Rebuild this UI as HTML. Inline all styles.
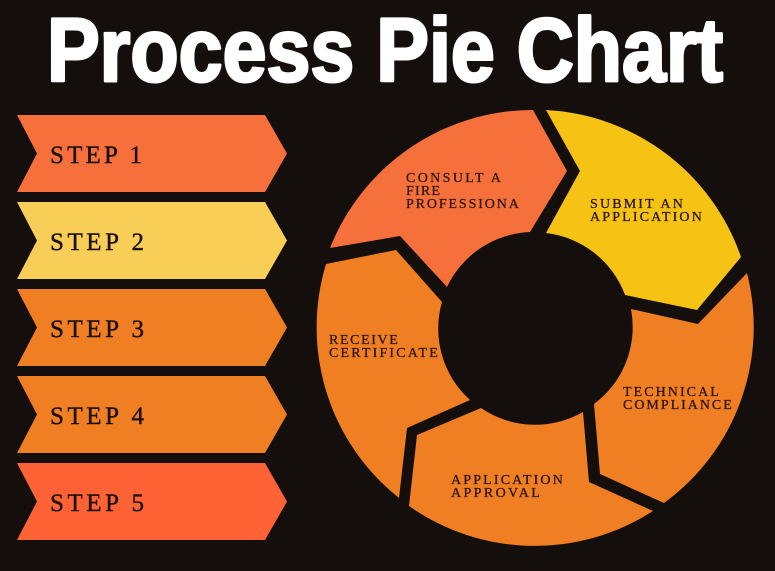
<!DOCTYPE html>
<html><head><meta charset="utf-8"><style>
html,body{margin:0;padding:0;background:#140E0C;}
svg{display:block}
</style></head><body>
<svg width="775" height="571" viewBox="0 0 775 571" xmlns="http://www.w3.org/2000/svg">
<rect width="775" height="571" fill="#140E0C"/>
<text x="385" y="81" text-anchor="middle" font-family="Liberation Sans, sans-serif" font-weight="bold" font-size="90" fill="#fff" stroke="#fff" stroke-width="3" stroke-linejoin="round" textLength="676" lengthAdjust="spacingAndGlyphs">Process Pie Chart</text>

<g font-family="Liberation Serif, serif" font-size="25" fill="#1a1008" stroke="#1a1008" stroke-width="0.4">
<polygon points="17,115 265,115 287,153.5 265,192 17,192 37,153.5" fill="#F76F3B" stroke="none"/>
<text x="50" y="163" textLength="92">STEP 1</text>
<polygon points="17,202 265,202 287,240.5 265,279 17,279 37,240.5" fill="#F9CE56" stroke="none"/>
<text x="50" y="250" textLength="94">STEP 2</text>
<polygon points="17,289 265,289 287,327.5 265,366 17,366 37,327.5" fill="#F07E22" stroke="none"/>
<text x="50" y="337" textLength="94">STEP 3</text>
<polygon points="17,376 265,376 287,414.5 265,453 17,453 37,414.5" fill="#F07E22" stroke="none"/>
<text x="50" y="424" textLength="94">STEP 4</text>
<polygon points="17,463 265,463 287,501.5 265,540 17,540 37,501.5" fill="#FF6235" stroke="none"/>
<text x="50" y="511" textLength="94">STEP 5</text>
</g>

<path d="M330,248 A218,218 0 0 1 533,110 L567,171 L530,232 A96,96 0 0 0 447,287 L400,236 Z" fill="#F6703C"/>
<path d="M546,110 A218,218 0 0 1 741,257 L697,310 L625,295 A96,96 0 0 0 546,233 L580,171 Z" fill="#F6C315"/>
<path d="M747,273 A218,218 0 0 1 664,503 L600,474 L594,404 A96,96 0 0 0 631,309 L698,324 Z" fill="#F07E22"/>
<path d="M653,511 A218,218 0 0 1 409,506 L417,435 L481,408 A96,96 0 0 0 583,412 L589,482 Z" fill="#F07E22"/>
<path d="M399,498 A218,218 0 0 1 326,264 L396,250 L442,302 A96,96 0 0 0 470,400 L407,428 Z" fill="#F07E22"/>

<g font-family="Liberation Serif, serif" font-size="14" fill="#2a160a" stroke="#2a160a" stroke-width="0.3" letter-spacing="1.2">
<text x="406" y="182" textLength="96">CONSULT A</text>
<text x="406" y="195">FIRE</text>
<text x="406" y="208" textLength="114">PROFESSIONA</text>
<text x="590" y="208" textLength="94">SUBMIT AN</text>
<text x="590" y="221" textLength="113">APPLICATION</text>
<text x="623" y="396" textLength="97">TECHNICAL</text>
<text x="623" y="409" textLength="110">COMPLIANCE</text>
<text x="451" y="484" textLength="113">APPLICATION</text>
<text x="451" y="497" textLength="90">APPROVAL</text>
<text x="329" y="344" textLength="70">RECEIVE</text>
<text x="329" y="357" textLength="110">CERTIFICATE</text>
</g>
</svg>
</body></html>
